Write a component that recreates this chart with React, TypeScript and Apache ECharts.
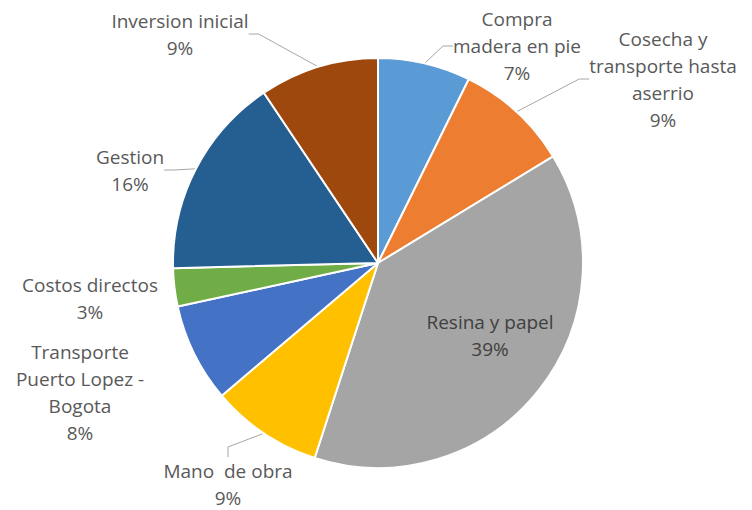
import React, { useEffect, useRef } from "react";
import * as echarts from "echarts";

const categories = [
  "Compra madera en pie",
  "Cosecha y transporte hasta aserrio",
  "Resina y papel",
  "Mano de obra",
  "Transporte Puerto Lopez - Bogota",
  "Costos directos",
  "Gestion",
  "Inversion inicial",
];
const labelLines = [
  ["Compra", "madera en pie"],
  ["Cosecha y", "transporte hasta", "aserrio"],
  ["Resina y papel"],
  ["Mano  de obra"],
  ["Transporte", "Puerto Lopez -", "Bogota"],
  ["Costos directos"],
  ["Gestion"],
  ["Inversion inicial"],
];
const values = [7.3, 9.0, 38.7, 8.8, 7.8, 3.0, 16.0, 9.4];
const colors = ["#5B9BD5", "#ED7D31", "#A5A5A5", "#FFC000", "#4472C4", "#70AD47", "#255E91", "#9E480E"];
const showLine = [true, true, false, true, false, false, true, true];
// label block centres (x, y) in pixels
const labelPos: [number, number][] = [
  [517, 46],
  [663, 79],
  [490, 335],
  [228, 484],
  [80, 392],
  [90, 298],
  [130, 170],
  [180, 34],
];

export default function App() {
  const ref = useRef<HTMLDivElement>(null);
  useEffect(() => {
    if (!ref.current) return;
    const chart = echarts.init(ref.current, null, { renderer: "svg" });
    chart.setOption({
      animation: false,
      backgroundColor: "#ffffff",
      series: [
        {
          type: "pie",
          center: [378, 263],
          radius: 205,
          startAngle: 90,
          clockwise: true,
          avoidLabelOverlap: false,
          itemStyle: { borderColor: "#ffffff", borderWidth: 2 },
          label: {
            show: true,
            position: "outside",
            fontFamily: "Open Sans",
            fontSize: 19,
            lineHeight: 27,
            color: "#595959",
            formatter: (p: any) =>
              labelLines[p.dataIndex].join("\n") + "\n" + Math.round(p.percent) + "%",
          },
          labelLine: {
            show: true,
            length: 10,
            length2: 10,
            smooth: false,
            lineStyle: { color: "#A6A6A6", width: 1 },
          },
          labelLayout: (params: any) => {
            const pos = labelPos[params.dataIndex];
            return { x: pos[0], y: pos[1], align: "center", verticalAlign: "middle" };
          },
          data: categories.map((name, i) => ({
            name,
            value: values[i],
            itemStyle: { color: colors[i] },
            labelLine: { show: showLine[i] },
            label: i === 2 ? { color: "#404040" } : {},
          })),
        },
      ],
    });
    return () => chart.dispose();
  }, []);
  return (
    <div
      ref={ref}
      style={{ position: "absolute", left: 0, top: 0, width: 752, height: 510 }}
    />
  );
}
